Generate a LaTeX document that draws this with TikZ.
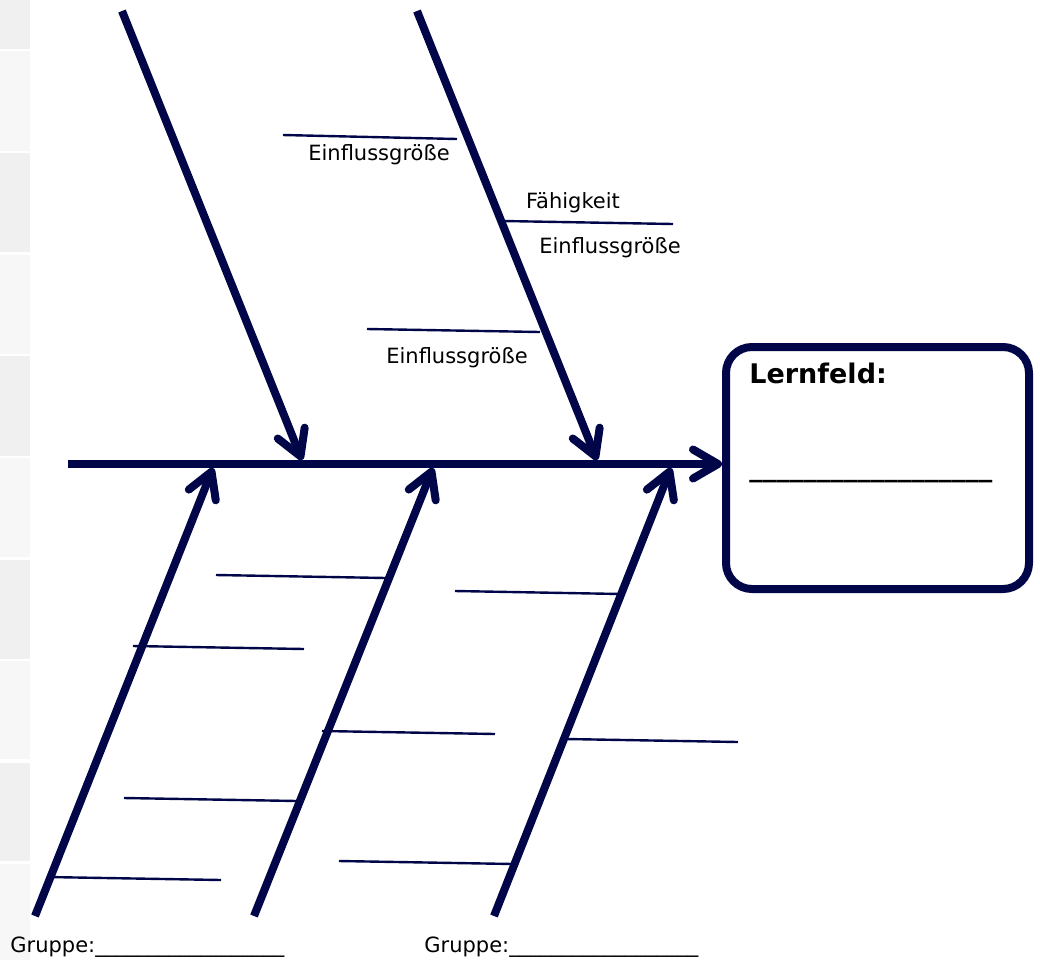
\documentclass[tikz,border=0pt]{standalone}
\usepackage{fontspec}
\setmainfont{DejaVu Sans}
\usetikzlibrary{calc}
\usetikzlibrary{arrows.meta}

\definecolor{navy}{RGB}{0,6,72}
\definecolor{stripdark}{RGB}{240,240,240}
\definecolor{striplight}{RGB}{247,247,247}

\tikzset{
  bone/.style={navy,line width=4pt,-{Straight Barb[length=12.5pt,width=14.5pt,round]}},
  twig/.style={navy,line width=1.2pt},
  lbl/.style={anchor=base,inner sep=0pt,font=\fontsize{10.5}{12}\selectfont},
}

\begin{document}
\begin{tikzpicture}[x=0.5pt,y=-0.5pt]
\useasboundingbox (0,0) rectangle (1040,960);
% grey strip at the left edge
\foreach \ya/\yb [count=\i] in {0/49,51/151,153/252,255/354,356/456,458/557,560/659,661/759,763/861,864/960} {
  \ifodd\i \def\stripcol{stripdark}\else \def\stripcol{striplight}\fi
  \fill[\stripcol] (0,\ya) rectangle (30,\yb);
}

% effect box
\node[draw=navy,line width=4pt,rounded corners=13pt,minimum width=151.5pt,minimum height=121pt] (lf) at (877.5,468) {};
\node[anchor=base west,inner sep=0pt,font=\fontsize{13.5}{15}\selectfont\bfseries] (lftitle) at (749,383) {Lernfeld:};
\node[anchor=base west,inner sep=0pt,font=\fontsize{13.5}{15}\selectfont\bfseries] (lfline) at (749,476) {\_\_\_\_\_\_\_\_\_\_\_\_\_\_\_\_\_\_};

% spine
\coordinate (tail) at (68,464);
\draw[bone] (tail) -- (tail -| lf.west);

% small branches
\foreach \xa/\ya/\xb/\yb [count=\i] in {283/135/457/139, 503/221/673/224, 367/329/540/332,
    216/575/386/578, 133/646/304/649, 124/798/297/801, 47/877/221/880,
    455/591/621/594, 322/731/495/734, 339/861/513/864, 566/739/738/742} {
  \coordinate (tw\i a) at (\xa,\ya);
  \coordinate (tw\i b) at (\xb,\yb);
  \draw[twig] (tw\i a) -- (tw\i b);
}

% main bones
\foreach \xa/\ya/\xb/\yb [count=\i] in {122/11/302/460, 417/11/597/460,
    35/916/213/468, 254/916/433/468, 494/916/671/468} {
  \coordinate (b\i) at (\xa,\ya);
  \coordinate (h\i) at (\xb,\yb);
  \draw[bone] (b\i) -- (h\i);
}

% labels
\node[lbl] (inf1) at (379,160) {Einflussgröße};
\node[lbl] (fae) at (573,208) {Fähigkeit};
\node[lbl] (inf2) at (610,253) {Einflussgröße};
\node[lbl] (inf3) at (457,363) {Einflussgröße};
\node[lbl,anchor=base west] (grp1) at (10,952) {Gruppe:\_\_\_\_\_\_\_\_\_\_\_\_\_\_\_\_\_\_};
\node[lbl,anchor=base west] (grp2) at (424,952) {Gruppe:\_\_\_\_\_\_\_\_\_\_\_\_\_\_\_\_\_\_};
\end{tikzpicture}
\end{document}
